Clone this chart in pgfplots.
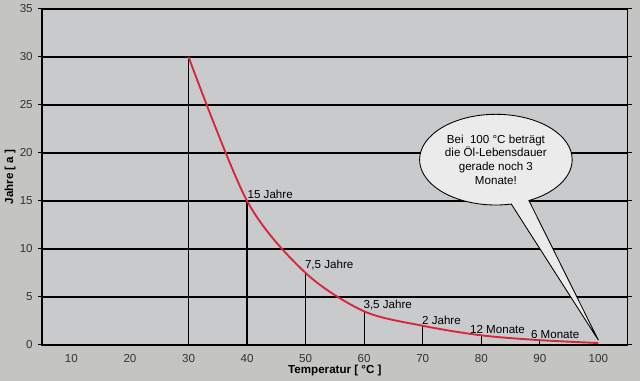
\documentclass[border=0pt]{standalone}
\usepackage{pgfplots}
\pgfplotsset{compat=1.18}
\usepackage{fontspec}
\setmainfont{Liberation Sans}
\usetikzlibrary{shapes.callouts,backgrounds}
\definecolor{paper}{RGB}{196,196,194}
\definecolor{plotbg}{RGB}{200,202,204}
\definecolor{curve}{RGB}{214,40,60}
\begin{document}
\begin{tikzpicture}[show background rectangle, inner frame sep=0pt,
  background rectangle/.style={fill=paper, draw=none}]
\begin{axis}[
  scale only axis,
  width=14.2cm, height=8.15cm,
  xmin=5, xmax=105, ymin=0, ymax=35,
  xtick={10,20,...,100}, ytick={0,5,...,35},
  ymajorgrids, grid style={black, line width=0.8pt},
  axis line style={black, line width=1.1pt},
  axis background/.style={fill=plotbg},
  xtick style={draw=none},
  ytick style={black, line width=0.7pt},
  tick align=outside, major tick length=3pt,
  tick label style={font=\footnotesize, text=black!80},
  /pgf/number format/assume math mode=true,
  xlabel={\bfseries Temperatur [ °C ]},
  ylabel={\bfseries Jahre [ a ]},
  label style={font=\footnotesize},
  xlabel style={yshift=5pt},
  ylabel style={yshift=-4pt},
  clip=false,
]
% drop lines
\addplot[ycomb, black, line width=0.9pt, mark=none] coordinates {
  (30,30) (40,15) (50,7.5) (60,3.5) (70,2) (80,1) (90,0.5)};
% curve
\addplot[curve, line width=1.3pt, smooth, tension=0.5, mark=none] coordinates {
  (30,30) (40,15) (50,7.5) (60,3.5) (70,2) (80,1) (90,0.5) (100,0.2)};
\node[anchor=south west, font=\footnotesize, inner sep=1pt] at (axis cs:39.8,15.1) {15 Jahre};
\node[anchor=south west, font=\footnotesize, inner sep=1pt] at (axis cs:49.6,7.6) {7,5 Jahre};
\node[anchor=south west, font=\footnotesize, inner sep=1pt] at (axis cs:59.6,3.5) {3,5 Jahre};
\node[anchor=south west, font=\footnotesize, inner sep=1pt] at (axis cs:69.6,1.9) {2 Jahre};
\node[anchor=south west, font=\footnotesize, inner sep=1pt] at (axis cs:77.8,1.0) {12 Monate};
\node[anchor=south west, font=\footnotesize, inner sep=1pt] at (axis cs:88.2,0.5) {6 Monate};
\node[ellipse callout, draw=black, line width=0.6pt, fill=black!8,
  minimum width=3.7cm, minimum height=2.2cm, inner sep=0pt, align=center, font=\footnotesize,
  callout absolute pointer={(axis cs:100,0.5)}, callout pointer arc=14]
  at (axis cs:82.5,19.3) {Bei\ \ 100 °C beträgt\\die Öl-Lebensdauer\\gerade noch 3\\Monate!};
\end{axis}
\path (current axis.east) ++(0.3cm,0) coordinate (rm);
\end{tikzpicture}
\end{document}
